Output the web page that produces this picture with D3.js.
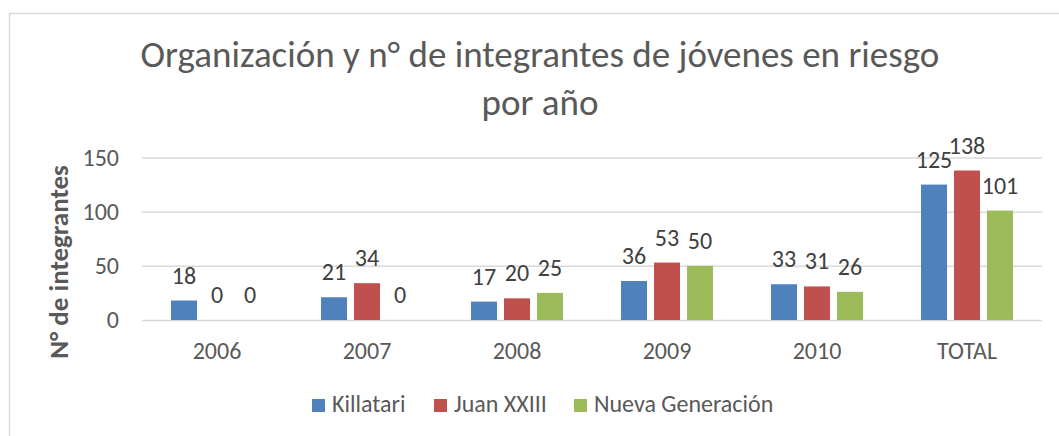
<!DOCTYPE html>
<html>
<head>
<meta charset="utf-8">
<script src="https://cdn.jsdelivr.net/npm/d3@7"></script>
<style>
  body { margin: 0; background: #fff; }
  text { font-family: Carlito, Calibri, "Open Sans", sans-serif; fill: #595959; }
</style>
</head>
<body>
<div id="chart"></div>
<script>
// data
var categories = ["2006", "2007", "2008", "2009", "2010", "TOTAL"];
var seriesNames = ["Killatari", "Juan XXIII", "Nueva Generación"];
var killatari = [18, 21, 17, 36, 33, 125];
var juanXXIII = [0, 34, 20, 53, 31, 138];
var nuevaGeneracion = [0, 0, 25, 50, 26, 101];
var yTicks = [0, 50, 100, 150];
var colors = ["#4F81BD", "#C0504D", "#9BBB59"];

var width = 1059, height = 436;
var plot = {left: 142, right: 1042, top: 157.5, bottom: 320};

var svg = d3.select("#chart").append("svg")
     .attr("width", width)
     .attr("height", height);

// outer frame of the chart area (right / bottom run off the picture)
svg.append("rect")
     .attr("x", 9.5).attr("y", 13.5)
     .attr("width", 1100).attr("height", 500)
     .attr("fill", "none")
     .attr("stroke", "#d9d9d9")
     .attr("stroke-width", 1.5);

// Title
var title = svg.append("text")
     .attr("text-anchor", "middle")
     .style("font-size", "37px");
title.append("tspan").attr("x", 540).attr("y", 67)
     .text("Organización y n° de integrantes de jóvenes en riesgo");
title.append("tspan").attr("x", 540).attr("y", 115)
     .text("por año");

// Scales
var x0 = d3.scaleBand()
     .domain(categories)
     .range([plot.left, plot.right])
     .paddingInner(0.387)
     .paddingOuter(0.1935);

var x1 = d3.scaleBand()
     .domain(seriesNames)
     .range([0, x0.bandwidth()])
     .paddingInner(0.212);

var y = d3.scaleLinear()
     .domain([0, 150])
     .range([plot.bottom, plot.top]);

// Y axis with gridlines
var yAxis = svg.append("g")
     .attr("transform", "translate(" + plot.left + ",0)")
     .call(d3.axisLeft(y)
          .tickValues(yTicks)
          .tickSize(-(plot.right - plot.left))
          .tickPadding(23));
yAxis.select(".domain").remove();
yAxis.selectAll("line")
     .attr("stroke", "#d9d9d9")
     .attr("stroke-width", 1.5);
yAxis.selectAll("text")
     .style("font-size", "24px")
     .attr("fill", "#595959");
yAxis.attr("font-family", null);

// X axis labels
var xAxis = svg.append("g")
     .attr("transform", "translate(0," + plot.bottom + ")")
     .call(d3.axisBottom(x0).tickSize(0));
xAxis.select(".domain").remove();
xAxis.attr("font-family", null);
xAxis.selectAll("text")
     .attr("y", 39)
     .attr("dy", null)
     .style("font-size", "24px")
     .attr("fill", "#595959");

// Y label
svg.append("text")
     .attr("transform", "translate(68,262) rotate(-90)")
     .attr("text-anchor", "middle")
     .style("font-size", "27px")
     .style("font-weight", "bold")
     .text("N° de integrantes");

// Bars
var table = categories.map(function(c, i) {
     return {cat: c, values: [killatari[i], juanXXIII[i], nuevaGeneracion[i]]};
});

var groups = svg.selectAll(".grp")
     .data(table)
     .enter()
     .append("g")
     .attr("class", "grp")
     .attr("transform", function(d) { return "translate(" + x0(d.cat) + ",0)"; });

groups.selectAll("rect")
     .data(function(d) { return d.values.map(function(v, j) { return {name: seriesNames[j], value: v, idx: j}; }); })
     .enter()
     .append("rect")
     .attr("x", function(d) { return x1(d.name); })
     .attr("y", function(d) { return y(d.value); })
     .attr("width", x1.bandwidth())
     .attr("height", function(d) { return y(0) - y(d.value); })
     .attr("fill", function(d) { return colors[d.idx]; });

// Data labels
groups.selectAll(".lbl")
     .data(function(d) { return d.values.map(function(v, j) { return {name: seriesNames[j], value: v}; }); })
     .enter()
     .append("text")
     .attr("class", "lbl")
     .attr("text-anchor", "middle")
     .attr("x", function(d) { return x1(d.name) + x1.bandwidth() / 2; })
     .attr("y", function(d) { return y(d.value) - 17; })
     .style("font-size", "24px")
     .style("fill", "#404040")
     .text(function(d) { return d.value; });

// Legend
var legendX = [312, 434, 574];
var legend = svg.selectAll(".legend")
     .data(seriesNames)
     .enter()
     .append("g")
     .attr("class", "legend")
     .attr("transform", function(d, i) { return "translate(" + legendX[i] + ",399)"; });

legend.append("rect")
     .attr("width", 13).attr("height", 13)
     .attr("fill", function(d, i) { return colors[i]; });

legend.append("text")
     .attr("x", 20).attr("y", 13)
     .style("font-size", "24px")
     .text(function(d) { return d; });
</script>
</body>
</html>
